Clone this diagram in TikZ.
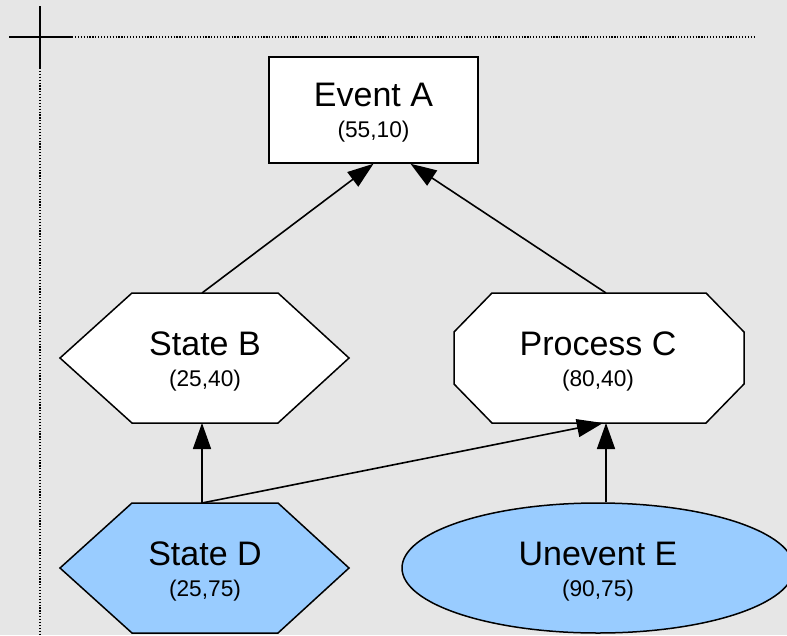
\documentclass[tikz,border=0pt]{standalone}
\usepackage{fontspec}
\setmainfont{Liberation Sans}
\usetikzlibrary{arrows.meta,shapes.geometric}
\definecolor{bgc}{HTML}{E6E6E6}
\definecolor{paleblue}{HTML}{99CCFF}
\tikzset{
  shapeline/.style={line width=1.5pt, draw=black},
  frame/.style={draw=none, inner sep=0pt, outer sep=0pt},
  arr/.style={line width=1.6pt, -{Triangle[length=26pt,width=18pt]}},
  bigtxt/.style={font=\fontsize{34}{40}\selectfont, inner sep=0pt, anchor=base},
  smalltxt/.style={font=\fontsize{22.7}{27}\selectfont, inner sep=0pt, anchor=base},
  guide/.style={line width=1.3pt},
  dotguide/.style={line width=1.2pt, dash pattern=on 1.2pt off 1.7pt},
}
\begin{document}
\begin{tikzpicture}[x=1pt,y=-1pt]
\useasboundingbox (0,0) rectangle (787,635);
\fill[bgc] (0,0) rectangle (787,635);

% corner crosshair and dotted guides
\coordinate (hl) at (9,37);
\coordinate (hm) at (72,37);
\coordinate (hr) at (754,37);
\coordinate (vt) at (40,6);
\coordinate (vm) at (40,68);
\coordinate (vb) at (40,635);
\draw[guide] (hl) -- (hm);
\draw[guide] (vt) -- (vm);
\draw[dotguide] (hm) -- (hr);
\draw[dotguide] (vm) -- (vb);

% Event A
\node[shapeline, fill=white, minimum width=209pt, minimum height=106pt, inner sep=0pt] (a) at (373.5,110) {};

% State B (hexagon)
\node[frame, minimum width=289pt, minimum height=130pt] (b) at (204.5,358) {};
\draw[shapeline, fill=white] (b.west) -- ([xshift=72pt]b.north west) -- ([xshift=-71pt]b.north east)
  -- (b.east) -- ([xshift=-71pt]b.south east) -- ([xshift=72pt]b.south west) -- cycle;

% Process C (octagon)
\node[frame, minimum width=290pt, minimum height=130pt] (c) at (599,358) {};
\draw[shapeline, fill=white] ([xshift=38pt]c.north west) -- ([xshift=-38pt]c.north east)
  -- ([yshift=-39pt]c.north east) -- ([yshift=39pt]c.south east)
  -- ([xshift=-38pt]c.south east) -- ([xshift=38pt]c.south west)
  -- ([yshift=39pt]c.south west) -- ([yshift=-39pt]c.north west) -- cycle;

% State D (hexagon)
\node[frame, minimum width=289pt, minimum height=130pt] (d) at (204.5,568) {};
\draw[shapeline, fill=paleblue] (d.west) -- ([xshift=72pt]d.north west) -- ([xshift=-71pt]d.north east)
  -- (d.east) -- ([xshift=-71pt]d.south east) -- ([xshift=72pt]d.south west) -- cycle;

% Unevent E (ellipse)
\node[ellipse, shapeline, fill=paleblue, minimum width=392pt, minimum height=130pt, inner sep=0pt] (e) at (598,568) {};

% labels
\node[bigtxt] (at) at (373.5,106) {Event A};
\node[smalltxt] (as) at (373.5,137) {(55,10)};
\node[bigtxt] (bt) at (205,355) {State B};
\node[smalltxt] (bs) at (205,386) {(25,40)};
\node[bigtxt] (ct) at (598,355) {Process C};
\node[smalltxt] (cs) at (598,386) {(80,40)};
\node[bigtxt] (dt) at (205,565) {State D};
\node[smalltxt] (ds) at (205,596) {(25,75)};
\node[bigtxt] (et) at (598,565) {Unevent E};
\node[smalltxt] (es) at (598,596) {(90,75)};

% connectors
\draw[arr] ([xshift=-2.5pt]b.north) -- (a.south);
\draw[arr] ([xshift=7pt]c.north) -- ([xshift=37pt]a.south);
\draw[arr] ([xshift=-2.5pt]d.north) -- ([xshift=-2.5pt]b.south);
\draw[arr] ([xshift=-2.5pt]d.north) -- ([xshift=4pt]c.south);
\draw[arr] ([xshift=8pt]e.north) -- ([xshift=7pt]c.south);
\end{tikzpicture}
\end{document}
